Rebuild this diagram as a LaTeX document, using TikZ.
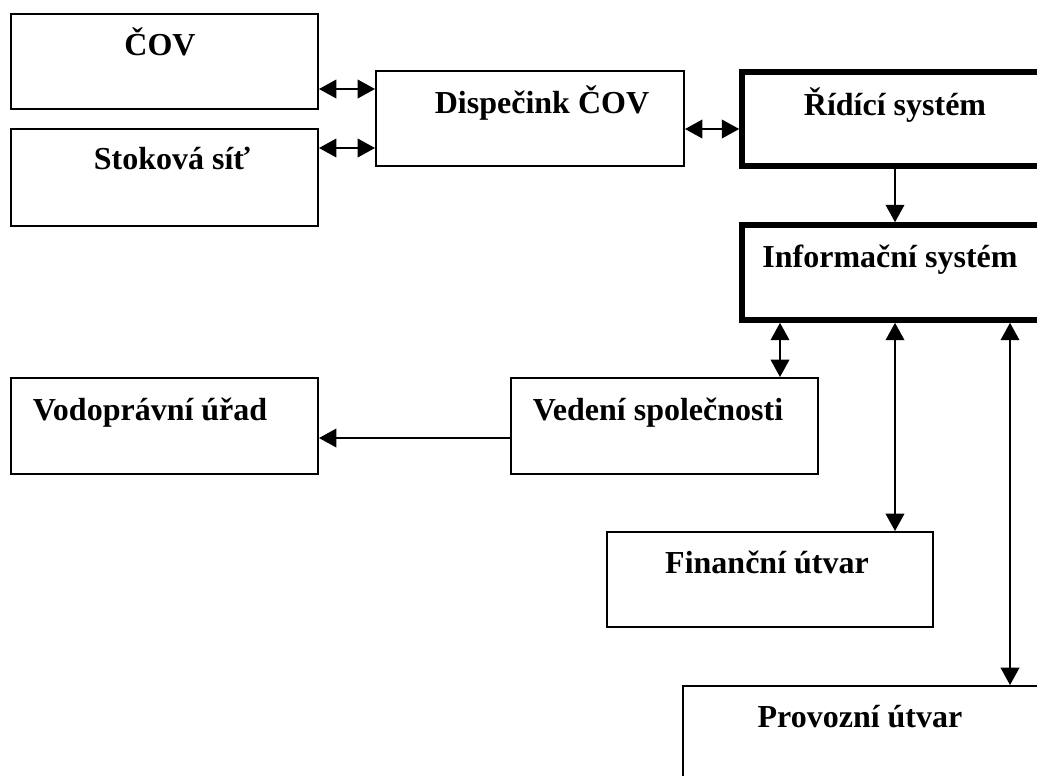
\documentclass[tikz,border=0pt]{standalone}
\usepackage{fontspec}
\setmainfont{Liberation Serif}
\usetikzlibrary{arrows.meta,fit}
\tikzset{
  box/.style={draw, line width=1.5pt, inner sep=0pt, rectangle},
  thickbox/.style={draw, line width=4.2pt, inner sep=0pt, rectangle},
  lbl/.style={anchor=base, inner sep=0pt, font=\fontsize{24pt}{28pt}\selectfont\bfseries},
  conn/.style={line width=1.1pt, -{Triangle[length=13pt,width=14pt]}},
  dconn/.style={line width=1.1pt, {Triangle[length=13pt,width=14pt]}-{Triangle[length=13pt,width=14pt]}}
}
\begin{document}
\begin{tikzpicture}[x=0.75pt,y=-0.75pt]
\useasboundingbox (0,0) rectangle (1037,775);
\clip (0,0) rectangle (1037,775);
% boxes
\node[box, fit={(11,14) (318,109)}] (cov) {};
\node[box, fit={(11,129) (318,226)}] (stok) {};
\node[box, fit={(376,71) (684,166)}] (disp) {};
\node[thickbox, fit={(742,72) (1060,166)}] (rid) {};
\node[thickbox, fit={(742,225) (1060,320)}] (inf) {};
\node[box, fit={(511,378) (818,474)}] (ved) {};
\node[box, fit={(11,378) (318,474)}] (vod) {};
\node[box, fit={(607,532) (933,627)}] (fin) {};
\node[box, fit={(683,686) (1060,800)}] (prov) {};
% labels
\node[lbl] (covt) at (160,55) {ČOV};
\node[lbl] (stokt) at (172,169) {Stoková síť};
\node[lbl] (dispt) at (542,113) {Dispečink ČOV};
\node[lbl] (ridt) at (895,115) {Řídící systém};
\node[lbl] (inft) at (890,267) {Informační systém};
\node[lbl] (vedt) at (658,420) {Vedení společnosti};
\node[lbl] (vodt) at (150,420) {Vodoprávní úřad};
\node[lbl] (fint) at (767,573) {Finanční útvar};
\node[lbl] (provt) at (860,727) {Provozní útvar};
% connectors
\draw[dconn] (cov.east |- 0,89) -- (disp.west |- 0,89);
\draw[dconn] (stok.east |- 0,148) -- (disp.west |- 0,148);
\draw[dconn] (disp.east |- 0,129) -- (rid.west |- 0,129);
\draw[conn] (rid.south -| 895,0) -- (inf.north -| 895,0);
\draw[dconn] (inf.south -| 780,0) -- (ved.north -| 780,0);
\draw[dconn] (inf.south -| 895,0) -- (fin.north -| 895,0);
\draw[dconn] (inf.south -| 1010,0) -- (prov.north -| 1010,0);
\draw[conn] (ved.west |- 0,438) -- (vod.east |- 0,438);
\end{tikzpicture}
\end{document}
